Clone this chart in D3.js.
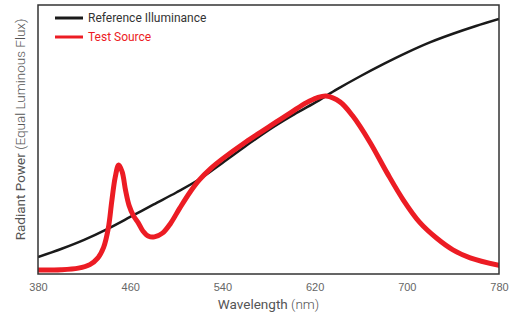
<!DOCTYPE html>
<html>
<head>
<meta charset="utf-8">
<script src="https://cdn.jsdelivr.net/npm/d3@7"></script>
<style>
  body { margin: 0; background: #fff; }
  svg { font-family: Roboto, "Noto Sans", sans-serif; }
</style>
</head>
<body>
<div id="chart"></div>
<script>
// reference illuminance (normalised, equal luminous flux)
const refWave = [380, 400, 420, 440, 460, 480, 500, 520, 540, 560, 580, 600, 620, 640, 660, 680, 700, 720, 740, 760, 780];
const refPower = [0.063, 0.093, 0.127, 0.167, 0.212, 0.258, 0.303, 0.352, 0.413, 0.475, 0.535, 0.588, 0.636, 0.688, 0.736, 0.781, 0.823, 0.861, 0.893, 0.922, 0.948];

// test source
const testWave = [380, 400, 415, 425, 432, 437, 441, 444, 447, 450, 453, 456, 459, 463, 467, 471, 476, 481, 488, 495, 503, 512, 520, 530, 540, 560, 580, 600, 613, 622, 630, 642, 653, 668, 683, 697, 711, 726, 740, 755, 780];
const testPower = [0.015, 0.016, 0.022, 0.035, 0.06, 0.10, 0.17, 0.27, 0.36, 0.405, 0.38, 0.31, 0.255, 0.215, 0.19, 0.16, 0.14, 0.138, 0.152, 0.188, 0.245, 0.305, 0.35, 0.393, 0.428, 0.49, 0.546, 0.602, 0.637, 0.655, 0.662, 0.64, 0.588, 0.49, 0.375, 0.275, 0.193, 0.133, 0.09, 0.06, 0.032];

const xTicks = [380, 460, 540, 620, 700, 780];
const legendNames = ['Reference Illuminance', 'Test Source'];
const colors = ['#1a1a1a', '#ec1c24'];

const width = 517;
const height = 318;
const plotLeft = 38, plotRight = 499, plotTop = 5, plotBottom = 274;

const svg = d3.select('#chart')
    .append('svg')
    .attr('width', width)
    .attr('height', height);

const x = d3.scaleLinear().domain([380, 780]).range([plotLeft, plotRight]);
const y = d3.scaleLinear().domain([0, 1]).range([plotBottom, plotTop]);

const line = d3.line()
    .x(d => x(d[0]))
    .y(d => y(d[1]))
    .curve(d3.curveCatmullRom.alpha(0.5));

const refData = refWave.map((w, i) => [w, refPower[i]]);
const testData = testWave.map((w, i) => [w, testPower[i]]);

svg.append('defs').append('clipPath').attr('id', 'clip')
    .append('rect')
    .attr('x', plotLeft).attr('y', plotTop)
    .attr('width', plotRight - plotLeft).attr('height', plotBottom - plotTop);

const plot = svg.append('g').attr('clip-path', 'url(#clip)');

plot.append('path')
    .datum(refData)
    .attr('d', line)
    .attr('fill', 'none')
    .attr('stroke', colors[0])
    .attr('stroke-width', 2.5);

plot.append('path')
    .datum(testData)
    .attr('d', line)
    .attr('fill', 'none')
    .attr('stroke', colors[1])
    .attr('stroke-width', 5)
    .attr('stroke-linecap', 'round');

// frame
svg.append('rect')
    .attr('x', plotLeft).attr('y', plotTop)
    .attr('width', plotRight - plotLeft).attr('height', plotBottom - plotTop)
    .attr('fill', 'none')
    .attr('stroke', '#333')
    .attr('stroke-width', 1.5);

// x tick labels
const xAxis = d3.axisBottom(x).tickValues(xTicks).tickSize(0).tickPadding(9);
const gx = svg.append('g')
    .attr('transform', `translate(0,${plotBottom})`)
    .call(xAxis);
gx.select('.domain').remove();
gx.selectAll('text')
    .attr('fill', '#666')
    .style('font-size', '11px');

// axis titles
const xt = svg.append('text')
    .attr('x', (plotLeft + plotRight) / 2)
    .attr('y', 309)
    .attr('text-anchor', 'middle')
    .attr('fill', '#555')
    .style('font-size', '13.5px');
xt.append('tspan').attr('font-weight', 400).text('Wavelength ');
xt.append('tspan').attr('font-weight', 300).text('(nm)');

const yt = svg.append('text')
    .attr('transform', `translate(25,${(plotTop + plotBottom) / 2 - 10}) rotate(-90)`)
    .attr('text-anchor', 'middle')
    .attr('fill', '#555')
    .style('font-size', '13.5px');
yt.append('tspan').attr('font-weight', 400).text('Radiant Power ');
yt.append('tspan').attr('font-weight', 300).text('(Equal Luminous Flux)');

// legend
const legend = svg.append('g')
    .selectAll('g')
    .data(legendNames)
    .enter()
    .append('g')
    .attr('transform', (d, i) => `translate(55,${18 + i * 19})`);

legend.append('line')
    .attr('x1', 0).attr('x2', 28)
    .attr('stroke', (d, i) => colors[i])
    .attr('stroke-width', 3);

legend.append('text')
    .attr('x', 33)
    .attr('dy', '0.35em')
    .attr('fill', (d, i) => i == 0 ? '#333' : colors[1])
    .style('font-size', '12px')
    .text(d => d);
</script>
</body>
</html>
